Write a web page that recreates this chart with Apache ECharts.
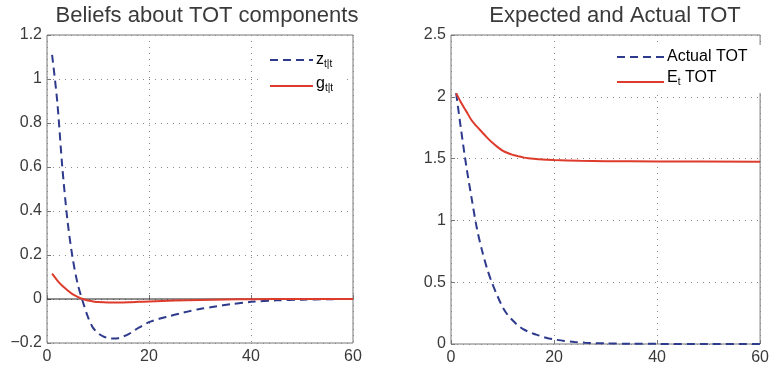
<!DOCTYPE html>
<html><head><meta charset="utf-8">
<script src="https://cdn.jsdelivr.net/npm/echarts@6/dist/echarts.min.js"></script>
<style>html,body{margin:0;padding:0;background:#fff}#c{width:772px;height:369px}</style>
</head><body><div id="c"></div>
<script>
// Left panel: beliefs about TOT components
const tLeftZ = [1,2,3,4,5,6,7,8,9,10,11,12,13,14,15,16,17,18,19,20,22,24,26,28,30,33,36,40,45,50,55,60];
const zValues = [1.11,0.90,0.60,0.36,0.19,0.07,-0.01,-0.08,-0.13,-0.155,-0.17,-0.178,-0.18,-0.178,-0.17,-0.16,-0.145,-0.13,-0.118,-0.105,-0.09,-0.078,-0.066,-0.055,-0.045,-0.034,-0.024,-0.013,-0.006,-0.003,-0.001,0];
const tLeftG = [1,2,3,4,5,6,7,8,9,10,12,14,16,18,20,25,30,35,40,50,60];
const gValues = [0.115,0.085,0.06,0.04,0.022,0.01,0.0,-0.007,-0.011,-0.014,-0.016,-0.016,-0.015,-0.013,-0.011,-0.007,-0.004,-0.002,-0.001,0,0];
const zeroLineT = [0,60];
const zeroLineV = [0,0];
// Right panel: expected and actual TOT
const tRightA = [1,2,3,4,5,6,7,8,9,10,11,12,13,14,15,16,17,18,19,20,22,24,26,28,30,35,40,50,60];
const actualTOT = [2.03,1.72,1.43,1.18,0.94,0.76,0.61,0.49,0.39,0.30,0.235,0.19,0.15,0.12,0.10,0.083,0.07,0.055,0.045,0.037,0.025,0.017,0.011,0.007,0.005,0.002,0.001,0,0];
const tRightE = [1,2,3,4,5,6,7,8,9,10,11,12,13,14,15,17,20,25,30,40,60];
const expectedTOT = [2.03,1.95,1.88,1.81,1.76,1.715,1.67,1.63,1.595,1.565,1.545,1.53,1.52,1.51,1.503,1.495,1.488,1.482,1.479,1.477,1.475];
const xTicks = {min:0, max:60, interval:20};
const yLeftTicks = {min:-0.2, max:1.2, interval:0.2};
const yRightTicks = {min:0, max:2.5, interval:0.5};
const titles = ['Beliefs about TOT components','Expected and Actual TOT'];
const legendLeft = [['z','t|t'],['g','t|t']];
const legendRight = [['Actual TOT',''],['E','t',' TOT']];

const pairs = (xs, ys) => xs.map((x,i)=>[x, ys[i]]);
const FONT = 'Liberation Sans, Arial, sans-serif';
const BLUE = '#2e3a8c', RED = '#dd3b2c', TXT = '#3a3a3a';
const DASH = [8,5];
const axisCommon = {
  axisLine:{show:false},
  axisTick:{show:true, inside:true, length:4, lineStyle:{color:'#777'}},
  splitLine:{show:true, lineStyle:{type:[1,5], color:'#888', width:1}},
  axisLabel:{color:TXT, fontSize:16, fontFamily:FONT, formatter:v=>{let s=String(+v.toFixed(2)); return s.replace('-','\u2212');}}
};
const rich = {m:{fontSize:16, fontFamily:FONT, color:TXT}, s:{fontSize:10, fontFamily:FONT, color:TXT, padding:[9,0,0,0]}};
const chart = echarts.init(document.getElementById('c'));
chart.setOption({
  backgroundColor:'#fff',
  animation:false,
  title:[
    {text:titles[0], left:202, top:0, textAlign:'center', textStyle:{fontSize:22, fontWeight:'normal', color:TXT, fontFamily:FONT}},
    {text:titles[1], left:610, top:0, textAlign:'center', textStyle:{fontSize:22, fontWeight:'normal', color:TXT, fontFamily:FONT}}
  ],
  grid:[
    {left:47, right:419, top:35, bottom:26, show:true, borderColor:'#777', borderWidth:1},
    {left:451, right:8, top:35, bottom:25, show:true, borderColor:'#777', borderWidth:1}
  ],
  xAxis:[
    Object.assign({type:'value', gridIndex:0}, xTicks, axisCommon, {axisLabel:Object.assign({}, axisCommon.axisLabel, {margin:6})}),
    Object.assign({type:'value', gridIndex:1}, xTicks, axisCommon, {axisLabel:Object.assign({}, axisCommon.axisLabel, {margin:6})})
  ],
  yAxis:[
    Object.assign({type:'value', gridIndex:0}, yLeftTicks, axisCommon, {axisLabel:Object.assign({}, axisCommon.axisLabel, {margin:5})}),
    Object.assign({type:'value', gridIndex:1}, yRightTicks, axisCommon, {axisLabel:Object.assign({}, axisCommon.axisLabel, {margin:5})})
  ],
  graphic:[
    {type:'rect', shape:{x:262, y:46, width:80, height:50}, style:{fill:'#fff'}, z:50},
    {type:'line', shape:{x1:270, y1:60, x2:313, y2:60}, style:{stroke:BLUE, lineWidth:2, lineDash:DASH}, z:51},
    {type:'text', x:316, y:60, style:{text:'{m|'+legendLeft[0][0]+'}{s|'+legendLeft[0][1]+'}', rich:rich, verticalAlign:'middle'}, z:51},
    {type:'line', shape:{x1:270, y1:86, x2:313, y2:86}, style:{stroke:RED, lineWidth:2}, z:51},
    {type:'text', x:316, y:84, style:{text:'{m|'+legendLeft[1][0]+'}{s|'+legendLeft[1][1]+'}', rich:rich, verticalAlign:'middle'}, z:51},
    {type:'rect', shape:{x:612, y:45, width:150, height:48}, style:{fill:'#fff'}, z:50},
    {type:'line', shape:{x1:617, y1:57, x2:664, y2:57}, style:{stroke:BLUE, lineWidth:2, lineDash:DASH}, z:51},
    {type:'text', x:667, y:57, style:{text:'{m|'+legendRight[0][0]+'}', rich:rich, verticalAlign:'middle'}, z:51},
    {type:'line', shape:{x1:617, y1:82, x2:664, y2:82}, style:{stroke:RED, lineWidth:2}, z:51},
    {type:'text', x:667, y:78, style:{text:'{m|'+legendRight[1][0]+'}{s|'+legendRight[1][1]+'}{m|'+legendRight[1][2]+'}', rich:rich, verticalAlign:'middle'}, z:51}
  ],
  series:[
    {type:'line', xAxisIndex:0, yAxisIndex:0, data:pairs(zeroLineT, zeroLineV), showSymbol:false, symbol:'none', lineStyle:{color:'#222', width:1}, silent:true},
    {name:'z', type:'line', xAxisIndex:0, yAxisIndex:0, data:pairs(tLeftZ, zValues), smooth:0.3, showSymbol:false, symbol:'none', lineStyle:{color:BLUE, width:2, type:DASH}},
    {name:'g', type:'line', xAxisIndex:0, yAxisIndex:0, data:pairs(tLeftG, gValues), smooth:0.3, showSymbol:false, symbol:'none', lineStyle:{color:RED, width:2}},
    {name:'Actual TOT', type:'line', xAxisIndex:1, yAxisIndex:1, data:pairs(tRightA, actualTOT), smooth:0.3, showSymbol:false, symbol:'none', lineStyle:{color:BLUE, width:2, type:DASH}},
    {name:'Et TOT', type:'line', xAxisIndex:1, yAxisIndex:1, data:pairs(tRightE, expectedTOT), smooth:0.3, showSymbol:false, symbol:'none', lineStyle:{color:RED, width:2}}
  ]
});
</script></body></html>
